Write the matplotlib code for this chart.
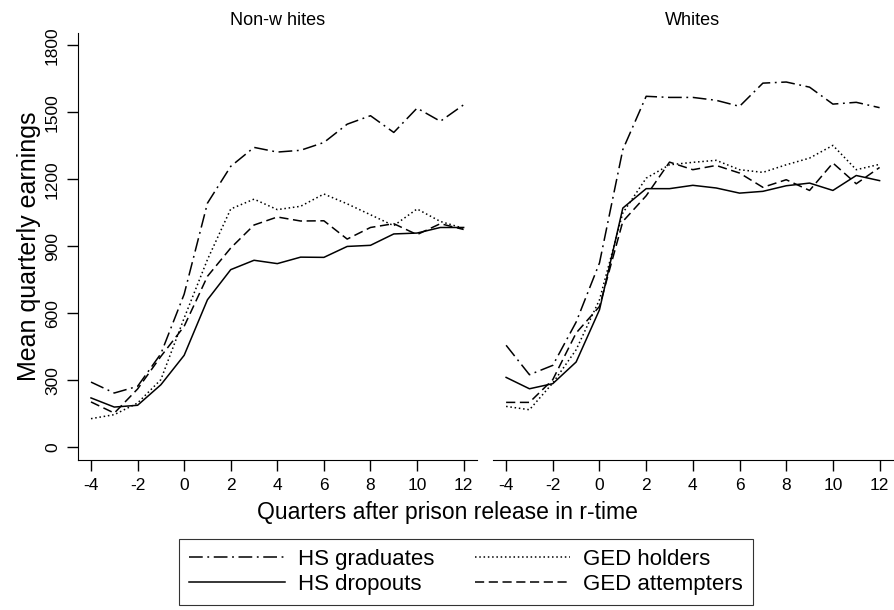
import matplotlib.pyplot as plt
from matplotlib.lines import Line2D

plt.rcParams['font.family'] = ['Liberation Sans', 'DejaVu Sans']
plt.rcParams['axes.unicode_minus'] = False

quarters = list(range(-4, 13))

# Non-whites
nw_grad = [291, 242, 272, 418, 685, 1093, 1258, 1343, 1322, 1330, 1365, 1447, 1485, 1410, 1519, 1460, 1534]
nw_drop = [220, 179, 187, 279, 411, 660, 795, 837, 822, 851, 850, 899, 904, 955, 959, 984, 984]
nw_ged = [127, 145, 197, 302, 578, 840, 1067, 1111, 1064, 1079, 1134, 1090, 1041, 992, 1067, 1011, 980]
nw_att = [202, 152, 260, 406, 541, 765, 892, 995, 1031, 1013, 1014, 932, 984, 1001, 952, 1001, 975]

# Whites
w_grad = [456, 324, 366, 560, 825, 1333, 1572, 1567, 1567, 1554, 1527, 1631, 1636, 1613, 1537, 1545, 1521]
w_drop = [312, 261, 284, 381, 615, 1071, 1158, 1158, 1173, 1161, 1138, 1146, 1171, 1183, 1150, 1217, 1194]
w_ged = [182, 167, 287, 436, 660, 1049, 1205, 1265, 1276, 1285, 1243, 1231, 1265, 1295, 1352, 1243, 1267]
w_att = [200, 200, 302, 511, 630, 1011, 1126, 1277, 1243, 1262, 1228, 1164, 1198, 1150, 1273, 1180, 1253]

labels = ['HS graduates', 'HS dropouts', 'GED holders', 'GED attempters']
styles = [(0, (9, 3, 1.2, 3)), '-', (0, (1, 1.8)), (0, (6, 3))]

fig = plt.figure(figsize=(8.94, 6.10), dpi=100)
ax1 = fig.add_axes([0.0872, 0.246, 0.446, 0.700])
ax2 = fig.add_axes([0.5515, 0.246, 0.447, 0.700])

for ax, series, title in [(ax1, [nw_grad, nw_drop, nw_ged, nw_att], 'Non-w hites'),
                          (ax2, [w_grad, w_drop, w_ged, w_att], 'Whites')]:
    for vals, ls in zip(series, styles):
        ax.plot(quarters, vals, color='black', linestyle=ls, linewidth=1.1)
    ax.set_xlim(-4.56, 12.56)
    ax.set_ylim(-58, 1856)
    ax.set_xticks(range(-4, 13, 2))
    ax.spines['top'].set_visible(False)
    ax.spines['right'].set_visible(False)
    ax.tick_params(direction='out', length=8, width=1, labelsize=12.5, colors='black', pad=5)
    ax.set_title(title, fontsize=13, pad=6)

ax1.set_yticks(range(0, 1801, 300))
for t in ax1.get_yticklabels():
    t.set_rotation(90)
    t.set_va('center')
ax1.set_ylabel('Mean quarterly earnings', fontsize=18, labelpad=3)

ax2.spines['left'].set_visible(False)
ax2.set_yticks([])

fig.text(0.5, 0.16, 'Quarters after prison release in r-time', ha='center', va='center', fontsize=16.5)

handles = [Line2D([], [], color='black', linestyle=ls, linewidth=1.1) for ls in styles]
leg = fig.legend(handles, labels, ncol=2, loc='center', bbox_to_anchor=(0.5215, 0.0625),
                 fontsize=16, frameon=True, fancybox=False, handlelength=4.3,
                 columnspacing=1.8, handletextpad=0.6, borderpad=0.45, labelspacing=0.2,
                 borderaxespad=0)
leg.get_frame().set_edgecolor('black')
leg.get_frame().set_linewidth(0.8)

fig.savefig('out.png', dpi=100)
